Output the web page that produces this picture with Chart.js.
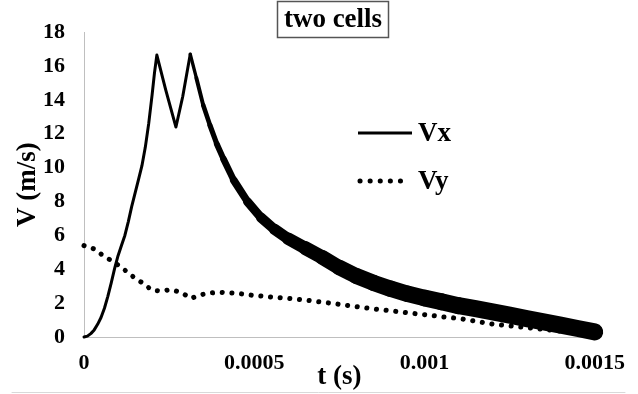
<!DOCTYPE html>
<html>
<head>
<meta charset="utf-8">
<script src="https://cdn.jsdelivr.net/npm/chart.js@4.4.1/dist/chart.umd.min.js"></script>
<style>
    html, body { margin: 0; padding: 0; background: #fff; }
    #wrap { width: 638px; height: 394px; }
</style>
</head>
<body>
<div id="wrap"><canvas id="chart" width="638" height="394"></canvas></div>
<script>
// ===== DATA =====
const chartTitle = 'two cells';
const seriesLabels = ['Vx', 'Vy'];

const vxTime = [
    0, 0.00001, 0.00002, 0.00003, 0.00004, 0.00005, 0.00006, 0.00007, 0.00008, 0.00009,
    0.0001, 0.00011, 0.00012, 0.00013, 0.00014, 0.00015, 0.00016, 0.00017, 0.00018, 0.00019,
    0.0002, 0.000207, 0.000214, 0.00024, 0.00027, 0.00029, 0.000312, 0.00033, 0.00035, 0.00037,
    0.00039, 0.00041, 0.00044, 0.00048, 0.00052, 0.00056, 0.0006, 0.00065, 0.0007, 0.00075,
    0.0008, 0.00085, 0.0009, 0.00095, 0.001, 0.00105, 0.0011, 0.00115, 0.0012, 0.00125,
    0.0013, 0.00135, 0.0014, 0.00145, 0.0015
];
const vxValues = [
    0, 0.05, 0.2, 0.42, 0.75, 1.15, 1.7, 2.4, 3.2, 4.05,
    4.8, 5.4, 6.0, 6.8, 7.7, 8.5, 9.3, 10.1, 11.2, 12.6,
    14.3, 15.6, 16.65, 14.6, 12.4, 14.2, 16.7, 15.3, 13.7, 12.5,
    11.4, 10.5, 9.25, 8.0, 7.05, 6.35, 5.8, 5.25, 4.7, 4.1,
    3.6, 3.2, 2.85, 2.55, 2.3, 2.08, 1.85, 1.67, 1.48, 1.29,
    1.09, 0.89, 0.7, 0.5, 0.3
];

const vyTime = [
    0, 0.00003, 0.00006, 0.00009, 0.00012, 0.000145, 0.000175, 0.0002, 0.00023, 0.000255,
    0.000285, 0.000314, 0.00034, 0.00037, 0.0004, 0.00045, 0.0005, 0.00055, 0.0006, 0.00065,
    0.0007, 0.00075, 0.0008, 0.00085, 0.0009, 0.00095, 0.001, 0.00105, 0.0011, 0.00115,
    0.0012, 0.0013, 0.0014, 0.0015
];
const vyValues = [
    5.4, 5.2, 4.75, 4.4, 3.95, 3.55, 3.15, 2.75, 2.72, 2.8,
    2.64, 2.28, 2.48, 2.6, 2.64, 2.58, 2.45, 2.36, 2.28, 2.18,
    2.06, 1.93, 1.79, 1.66, 1.55, 1.43, 1.32, 1.2, 1.1, 0.93,
    0.76, 0.55, 0.35, 0.15
];

const xTickValues = [0, 0.0005, 0.001, 0.0015];
const xTickLabels = ['0', '0.0005', '0.001', '0.0015'];
const yTickValues = [0, 2, 4, 6, 8, 10, 12, 14, 16, 18];

// ===== STYLE =====
const serif = '"Liberation Serif", "Times New Roman", serif';
const axisGray = '#bfbfbf';

// the Vx trace gets thicker as it decays (noisy signal)
const widthStops = [[0.00031, 3], [0.00042, 6.5], [0.00054, 10], [0.00067, 14], [0.0008, 16], [0.0011, 17]];
function bandWidth(t) {
    if (t <= widthStops[0][0]) return widthStops[0][1];
    for (let i = 1; i < widthStops.length; i++) {
        const [t1, w1] = widthStops[i];
        const [t0, w0] = widthStops[i - 1];
        if (t <= t1) return w0 + (t - t0) / (t1 - t0) * (w1 - w0);
    }
    return widthStops[widthStops.length - 1][1];
}

const toPoints = (xs, ys) => xs.map((x, i) => ({ x: x, y: ys[i] }));

// ===== DECORATION: boxed title, inner legend, bottom rule =====
const decorPlugin = {
    id: 'decor',
    afterDraw(chart) {
        const ctx = chart.ctx;
        ctx.save();

        // title box
        ctx.font = 'bold 27px ' + serif;
        ctx.fillStyle = '#000';
        ctx.textAlign = 'center';
        ctx.textBaseline = 'middle';
        ctx.strokeStyle = '#555';
        ctx.lineWidth = 1.5;
        ctx.strokeRect(277.5, 1.5, 111, 36);
        ctx.fillText(chartTitle, 333, 20);

        // legend
        const sets = chart.data.datasets;
        const rows = [133, 181];
        ctx.font = 'bold 27px ' + serif;
        ctx.textAlign = 'left';
        sets.forEach((ds, i) => {
            const y = rows[i];
            ctx.beginPath();
            ctx.strokeStyle = '#000';
            if (i === 0) {
                ctx.setLineDash([]);
                ctx.lineCap = 'butt';
                ctx.lineWidth = 3;
                ctx.moveTo(358, y);
                ctx.lineTo(412, y);
            } else {
                ctx.setLineDash([0.1, 10]);
                ctx.lineCap = 'round';
                ctx.lineWidth = 5;
                ctx.moveTo(360, y);
                ctx.lineTo(402, y);
            }
            ctx.stroke();
            ctx.fillText(ds.label, 418, y + 1);
        });
        ctx.setLineDash([]);

        // bottom rule of the frame
        ctx.beginPath();
        ctx.strokeStyle = '#d9d9d9';
        ctx.lineWidth = 1;
        ctx.moveTo(12, 392.5);
        ctx.lineTo(625, 392.5);
        ctx.stroke();

        ctx.restore();
    }
};

// ===== CHART =====
const chart = new Chart(document.getElementById('chart'), {
    type: 'line',
    data: {
        datasets: [
            {
                label: seriesLabels[0],
                data: toPoints(vxTime, vxValues),
                borderColor: '#000',
                borderWidth: 3,
                borderCapStyle: 'round',
                borderJoinStyle: 'round',
                pointRadius: 0,
                tension: 0,
                clip: false,
                order: 0,
                segment: {
                    borderWidth: c => bandWidth((c.p0.parsed.x + c.p1.parsed.x) / 2)
                }
            },
            {
                label: seriesLabels[1],
                data: toPoints(vyTime, vyValues),
                borderColor: '#000',
                borderWidth: 5,
                borderDash: [0.1, 9.6],
                borderCapStyle: 'round',
                pointRadius: 0,
                tension: 0,
                clip: false,
                order: 1
            }
        ]
    },
    options: {
        responsive: false,
        animation: false,
        devicePixelRatio: 1,
        layout: { padding: { left: 0, top: 32, right: 43, bottom: 0 } },
        plugins: {
            legend: { display: false },
            title: { display: false },
            tooltip: { enabled: false }
        },
        scales: {
            x: {
                type: 'linear',
                min: 0,
                max: 0.0015,
                afterFit: s => { s.height = 57; },
                afterBuildTicks: s => { s.ticks = xTickValues.map(v => ({ value: v })); },
                grid: { display: false, drawTicks: false },
                border: { display: true, color: axisGray, width: 1 },
                ticks: {
                    padding: 13,
                    maxRotation: 0,
                    color: '#000',
                    font: { family: serif, size: 22, weight: 'bold' },
                    callback: (v, i) => xTickLabels[i]
                },
                title: {
                    display: true,
                    text: 't (s)',
                    color: '#000',
                    padding: { top: 0, bottom: 1 },
                    font: { family: serif, size: 27, weight: 'bold' }
                }
            },
            y: {
                min: 0,
                max: 18,
                afterFit: s => { s.width = 84; },
                afterBuildTicks: s => { s.ticks = yTickValues.map(v => ({ value: v })); },
                grid: { display: false, drawTicks: false },
                border: { display: true, color: axisGray, width: 1 },
                ticks: {
                    padding: 19,
                    color: '#000',
                    font: { family: serif, size: 22, weight: 'bold' }
                },
                title: {
                    display: true,
                    text: 'V (m/s)',
                    color: '#000',
                    padding: { top: 12, bottom: 0 },
                    font: { family: serif, size: 27, weight: 'bold' }
                }
            }
        }
    },
    plugins: [decorPlugin]
});
</script>
</body>
</html>
